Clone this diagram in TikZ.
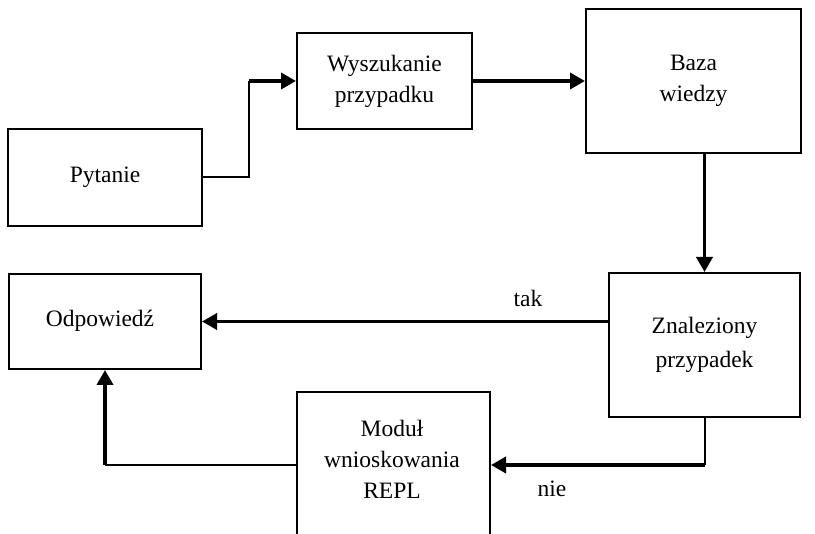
\documentclass[tikz,border=0pt]{standalone}
\usepackage{fontspec}
\setmainfont{Liberation Serif}
\usetikzlibrary{arrows.meta}
\begin{document}
\begin{tikzpicture}[x=1pt,y=-1pt,
  box/.style={draw, line width=2pt, inner sep=0pt, align=center,
              font=\fontsize{23.5}{31}\selectfont},
  lbl/.style={inner sep=0pt, align=center, font=\fontsize{23.5}{31}\selectfont},
  link/.style={line width=2pt},
  flow/.style={line width=3.6pt, -{Triangle[length=15pt,width=16pt]}}]
\useasboundingbox (0,0) rectangle (815,534);
\begin{scope}
\clip (0,0) rectangle (815,534);

% blocks
\node[box, minimum width=194pt, minimum height=97pt]  (pyt)   at (105,177.5) {Pytanie};
\node[box, minimum width=175pt, minimum height=96pt]  (wysz)  at (384.5,81)  {Wyszukanie\\przypadku};
\node[box, minimum width=215pt, minimum height=144pt] (baza)  at (693.5,81)  {Baza\\wiedzy};
\node[box, minimum width=191pt, minimum height=144pt] (znal)  at (704.5,345) {Znaleziony\\[3pt]przypadek};
\node[box, minimum width=192pt, minimum height=95pt]  (odp)   at (105,321.5) {};
\node[lbl] (odptxt) at (100,321) {Odpowiedź};
\node[box, minimum width=193pt, minimum height=146pt] (modul) at (393.5,465) {};
\node[lbl] (modtxt) at (392,459) {Moduł\\wnioskowania\\REPL};

% connectors
\coordinate (c1) at (249,81);
\draw[link] (pyt.east) -| (c1);
\draw[flow] (c1) -- (wysz.west);

\draw[flow] (wysz.east) -- (baza.west);

\draw[flow] (baza.south -| znal.north) -- (znal.north);

\draw[flow] (odp.east -| znal.west) -- (odp.east);
\node[lbl] (tak) at (528,298) {tak};

\coordinate (c2) at (znal.south |- modul.east);
\draw[link] (znal.south) -- (c2);
\draw[flow] (c2) -- (modul.east);
\node[lbl] (nie) at (552,489) {nie};

\coordinate (c3) at (modul.west -| odp.south);
\draw[link] (modul.west) -- (c3);
\draw[flow] (c3) -- (odp.south);
\end{scope}
\end{tikzpicture}
\end{document}
